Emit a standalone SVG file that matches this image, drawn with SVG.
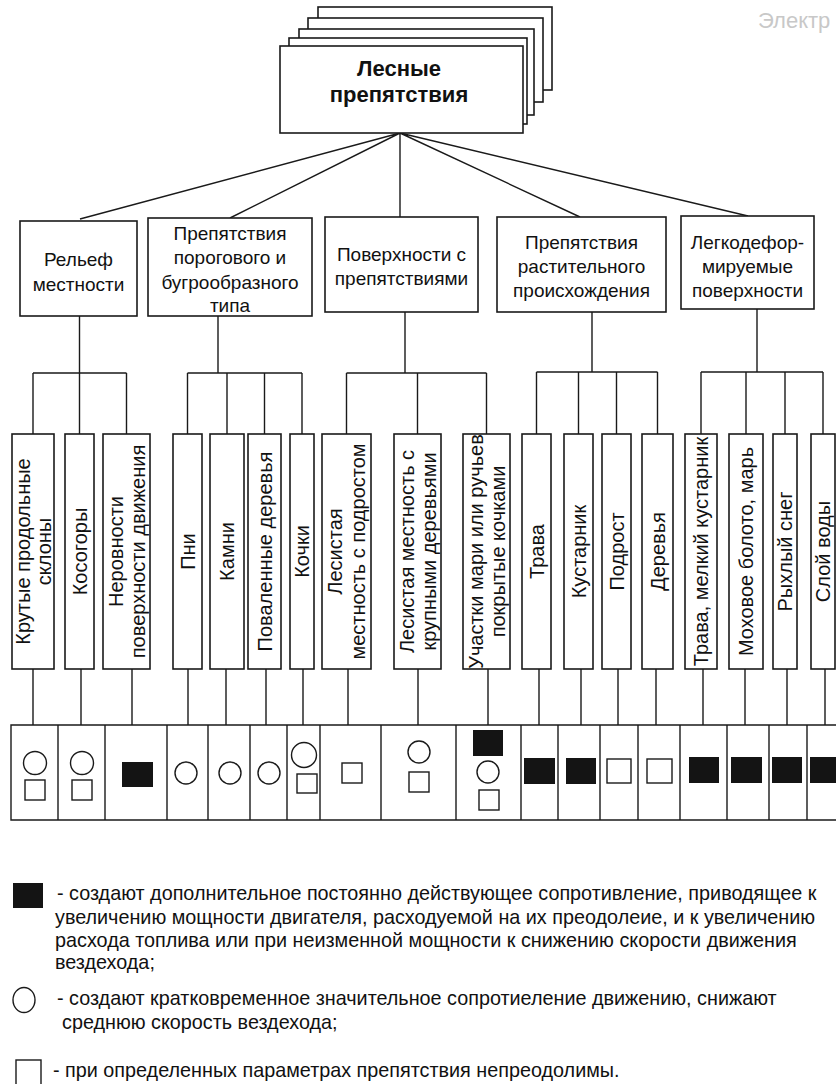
<svg xmlns="http://www.w3.org/2000/svg" width="836" height="1084" viewBox="0 0 836 1084">
<style>
.box{fill:#fff;stroke:#1a1a1a;stroke-width:1.6}
.ln{stroke:#1a1a1a;stroke-width:1.4;fill:none}
.t{font-family:"Liberation Sans",Arial,sans-serif;font-size:19px;fill:#111;text-anchor:middle;dominant-baseline:central}
.tr{font-family:"Liberation Sans",Arial,sans-serif;font-size:20px;fill:#111;text-anchor:middle;dominant-baseline:central}
.tb{font-family:"Liberation Sans",Arial,sans-serif;font-size:22px;font-weight:bold;fill:#111;text-anchor:middle}
.lg{font-family:"Liberation Sans",Arial,sans-serif;font-size:19.8px;fill:#111;dominant-baseline:central}
.blk{fill:#141414}
.sym{fill:none;stroke:#1a1a1a;stroke-width:1.4}
</style>
<rect width="836" height="1084" fill="#fff"/>
<text x="758" y="28" font-family="Liberation Sans, Arial, sans-serif" font-size="22" fill="#c8c8c8">Электр</text>

<g id="connectors" class="ln">
  <path d="M400,133 L80,219 M400,133 L230,218 M400,133 L400,217 M400,133 L580,217 M400,133 L748,216"/>
  <path d="M79.5,316 V434 M33,373 H126.5 M33,373 V434 M126.5,373 V434"/>
  <path d="M218,316 V373 M187.5,373 H302 M187.5,373 V434 M227,373 V434 M264.5,373 V434 M302,373 V434"/>
  <path d="M405,312 V373 M346.5,373 H486.5 M346.5,373 V434 M417.5,373 V434 M486.5,373 V434"/>
  <path d="M592,312 V372 M536.5,372 H657.5 M536.5,372 V434 M578.5,372 V434 M616.5,372 V434 M657.5,372 V434"/>
  <path d="M757,309 V372 M701,372 H823 M701,372 V434 M746,372 V434 M785,372 V434 M823,372 V434"/>
  <path d="M33,669 V725 M81,669 V725 M132,669 V725 M188,669 V725 M226,669 V725 M266,669 V725 M303,669 V725 M348,669 V725 M418,669 V725 M488,669 V725 M539,669 V725 M581,669 V725 M618,669 V725 M656,669 V725 M703,669 V725 M745,669 V725 M787,669 V725 M825,669 V725"/>
</g>

<g id="root">
  <rect class="box" x="318" y="7" width="234" height="83"/>
  <rect class="box" x="308" y="18" width="235" height="84"/>
  <rect class="box" x="299" y="29" width="235" height="86"/>
  <rect class="box" x="289" y="38" width="238" height="86"/>
  <rect class="box" x="280" y="46" width="243" height="87"/>
  <text class="tb" x="399" y="76">Лесные</text>
  <text class="tb" x="399" y="102">препятствия</text>
</g>

<g id="cat1"><rect class="box" x="20" y="221" width="117" height="95"/>
  <text class="t" x="78.5" y="259">Рельеф</text><text class="t" x="78.5" y="284">местности</text></g>
<g id="cat2"><rect class="box" x="148" y="218" width="164" height="98"/>
  <text class="t" x="230" y="233">Препятствия</text><text class="t" x="230" y="257">порогового и</text>
  <text class="t" x="230" y="282">бугрообразного</text><text class="t" x="230" y="305">типа</text></g>
<g id="cat3"><rect class="box" x="325" y="217" width="153" height="95"/>
  <text class="t" x="401.5" y="254">Поверхности с</text><text class="t" x="401.5" y="278">препятствиями</text></g>
<g id="cat4"><rect class="box" x="497" y="217" width="169" height="95"/>
  <text class="t" x="581.5" y="242">Препятствия</text><text class="t" x="581.5" y="266">растительного</text>
  <text class="t" x="581.5" y="290">происхождения</text></g>
<g id="cat5"><rect class="box" x="681" y="216" width="133" height="93"/>
  <text class="t" x="747.5" y="242">Легкодефор-</text><text class="t" x="747.5" y="266">мируемые</text>
  <text class="t" x="747.5" y="290">поверхности</text></g>

<g id="item1"><rect class="box" x="12" y="434" width="42" height="235"/>
  <text class="tr" transform="translate(33,551.5) rotate(-90)" y="-10.5">Крутые продольные</text>
  <text class="tr" transform="translate(33,551.5) rotate(-90)" y="10.5">склоны</text></g>
<g id="item2"><rect class="box" x="65" y="434" width="29" height="235"/>
  <text class="tr" transform="translate(79.5,551.5) rotate(-90)">Косогоры</text></g>
<g id="item3"><rect class="box" x="103" y="434" width="47" height="235"/>
  <text class="tr" transform="translate(126.5,551.5) rotate(-90)" y="-11">Неровности</text>
  <text class="tr" transform="translate(126.5,551.5) rotate(-90)" y="11">поверхности движения</text></g>
<g id="item4"><rect class="box" x="173" y="434" width="29" height="235"/>
  <text class="tr" transform="translate(187.5,551.5) rotate(-90)">Пни</text></g>
<g id="item5"><rect class="box" x="210" y="434" width="34" height="235"/>
  <text class="tr" transform="translate(227,551.5) rotate(-90)">Камни</text></g>
<g id="item6"><rect class="box" x="248" y="434" width="33" height="235"/>
  <text class="tr" transform="translate(264.5,551.5) rotate(-90)">Поваленные деревья</text></g>
<g id="item7"><rect class="box" x="290" y="434" width="24" height="235"/>
  <text class="tr" transform="translate(302,551.5) rotate(-90)">Кочки</text></g>
<g id="item8"><rect class="box" x="322" y="434" width="49" height="235"/>
  <text class="tr" transform="translate(346.5,551.5) rotate(-90)" y="-11.5">Лесистая</text>
  <text class="tr" transform="translate(346.5,551.5) rotate(-90)" y="11.5">местность с подростом</text></g>
<g id="item9"><rect class="box" x="394" y="434" width="47" height="235"/>
  <text class="tr" transform="translate(417.5,551.5) rotate(-90)" y="-11">Лесистая местность с</text>
  <text class="tr" transform="translate(417.5,551.5) rotate(-90)" y="11">крупными деревьями</text></g>
<g id="item10"><rect class="box" x="463" y="434" width="47" height="235"/>
  <text class="tr" transform="translate(486.5,551.5) rotate(-90)" y="-11">Участки мари или ручьев</text>
  <text class="tr" transform="translate(486.5,551.5) rotate(-90)" y="11">покрытые кочками</text></g>
<g id="item11"><rect class="box" x="522" y="434" width="29" height="235"/>
  <text class="tr" transform="translate(536.5,551.5) rotate(-90)">Трава</text></g>
<g id="item12"><rect class="box" x="564" y="434" width="29" height="235"/>
  <text class="tr" transform="translate(578.5,551.5) rotate(-90)">Кустарник</text></g>
<g id="item13"><rect class="box" x="602" y="434" width="29" height="235"/>
  <text class="tr" transform="translate(616.5,551.5) rotate(-90)">Подрост</text></g>
<g id="item14"><rect class="box" x="642" y="434" width="31" height="235"/>
  <text class="tr" transform="translate(657.5,551.5) rotate(-90)">Деревья</text></g>
<g id="item15"><rect class="box" x="685" y="434" width="32" height="235"/>
  <text class="tr" transform="translate(701,551.5) rotate(-90)">Трава, мелкий кустарник</text></g>
<g id="item16"><rect class="box" x="729" y="434" width="34" height="235"/>
  <text class="tr" transform="translate(746,551.5) rotate(-90)">Моховое болото, марь</text></g>
<g id="item17"><rect class="box" x="773" y="434" width="24" height="235"/>
  <text class="tr" transform="translate(785,551.5) rotate(-90)">Рыхлый снег</text></g>
<g id="item18"><rect class="box" x="811" y="434" width="24" height="235"/>
  <text class="tr" transform="translate(823,551.5) rotate(-90)">Слой воды</text></g>

<g id="table">
  <path class="ln" d="M836,725 H11 V820 H836"/>
  <path class="ln" d="M58,725 V820 M105,725 V820 M167,725 V820 M208,725 V820 M250,725 V820 M287,725 V820 M320,725 V820 M381,725 V820 M456,725 V820 M521,725 V820 M558,725 V820 M600,725 V820 M638,725 V820 M680,725 V820 M727,725 V820 M769,725 V820 M807,725 V820"/>
  <circle class="sym" cx="35" cy="763" r="11.5"/><rect class="sym" x="25" y="780" width="20" height="20"/>
  <circle class="sym" cx="82" cy="763" r="11.5"/><rect class="sym" x="72" y="780" width="20" height="20"/>
  <rect class="blk" x="122" y="762" width="31" height="25"/>
  <circle class="sym" cx="186" cy="773" r="11"/>
  <circle class="sym" cx="230" cy="773" r="11"/>
  <circle class="sym" cx="269" cy="773" r="11"/>
  <circle class="sym" cx="304" cy="755" r="12.5"/><rect class="sym" x="297" y="774" width="20" height="19"/>
  <rect class="sym" x="342" y="763" width="20" height="20"/>
  <circle class="sym" cx="419" cy="752" r="11"/><rect class="sym" x="409" y="772" width="20" height="20"/>
  <rect class="blk" x="473" y="730" width="30" height="26"/>
  <circle class="sym" cx="488" cy="772" r="11"/><rect class="sym" x="479" y="790" width="20" height="20"/>
  <rect class="blk" x="524" y="758" width="31" height="26"/>
  <rect class="blk" x="566" y="758" width="30" height="26"/>
  <rect class="sym" x="607" y="759" width="24" height="24"/>
  <rect class="sym" x="647" y="759" width="25" height="24"/>
  <rect class="blk" x="689" y="757" width="30" height="26"/>
  <rect class="blk" x="731" y="757" width="31" height="26"/>
  <rect class="blk" x="772" y="757" width="30" height="26"/>
  <rect class="blk" x="810" y="757" width="26" height="26"/>
</g>

<g id="legend">
  <rect class="blk" x="13" y="883" width="30" height="25"/>
  <text class="lg" x="57" y="893">- создают дополнительное постоянно действующее сопротивление, приводящее к</text>
  <text class="lg" x="55" y="917">увеличению мощности двигателя, расходуемой на их преодолеие, и к увеличению</text>
  <text class="lg" x="55" y="940">расхода топлива или при неизменной мощности к снижению скорости движения</text>
  <text class="lg" x="55" y="962">вездехода;</text>
  <ellipse class="sym" cx="24" cy="1000" rx="11" ry="12.5"/>
  <text class="lg" x="57" y="998">- создают кратковременное значительное сопротиеление движению, снижают</text>
  <text class="lg" x="62" y="1022">среднюю скорость вездехода;</text>
  <rect class="sym" x="16" y="1060" width="25" height="30"/>
  <text class="lg" x="53" y="1070">- при определенных параметрах препятствия непреодолимы.</text>
</g>
</svg>
